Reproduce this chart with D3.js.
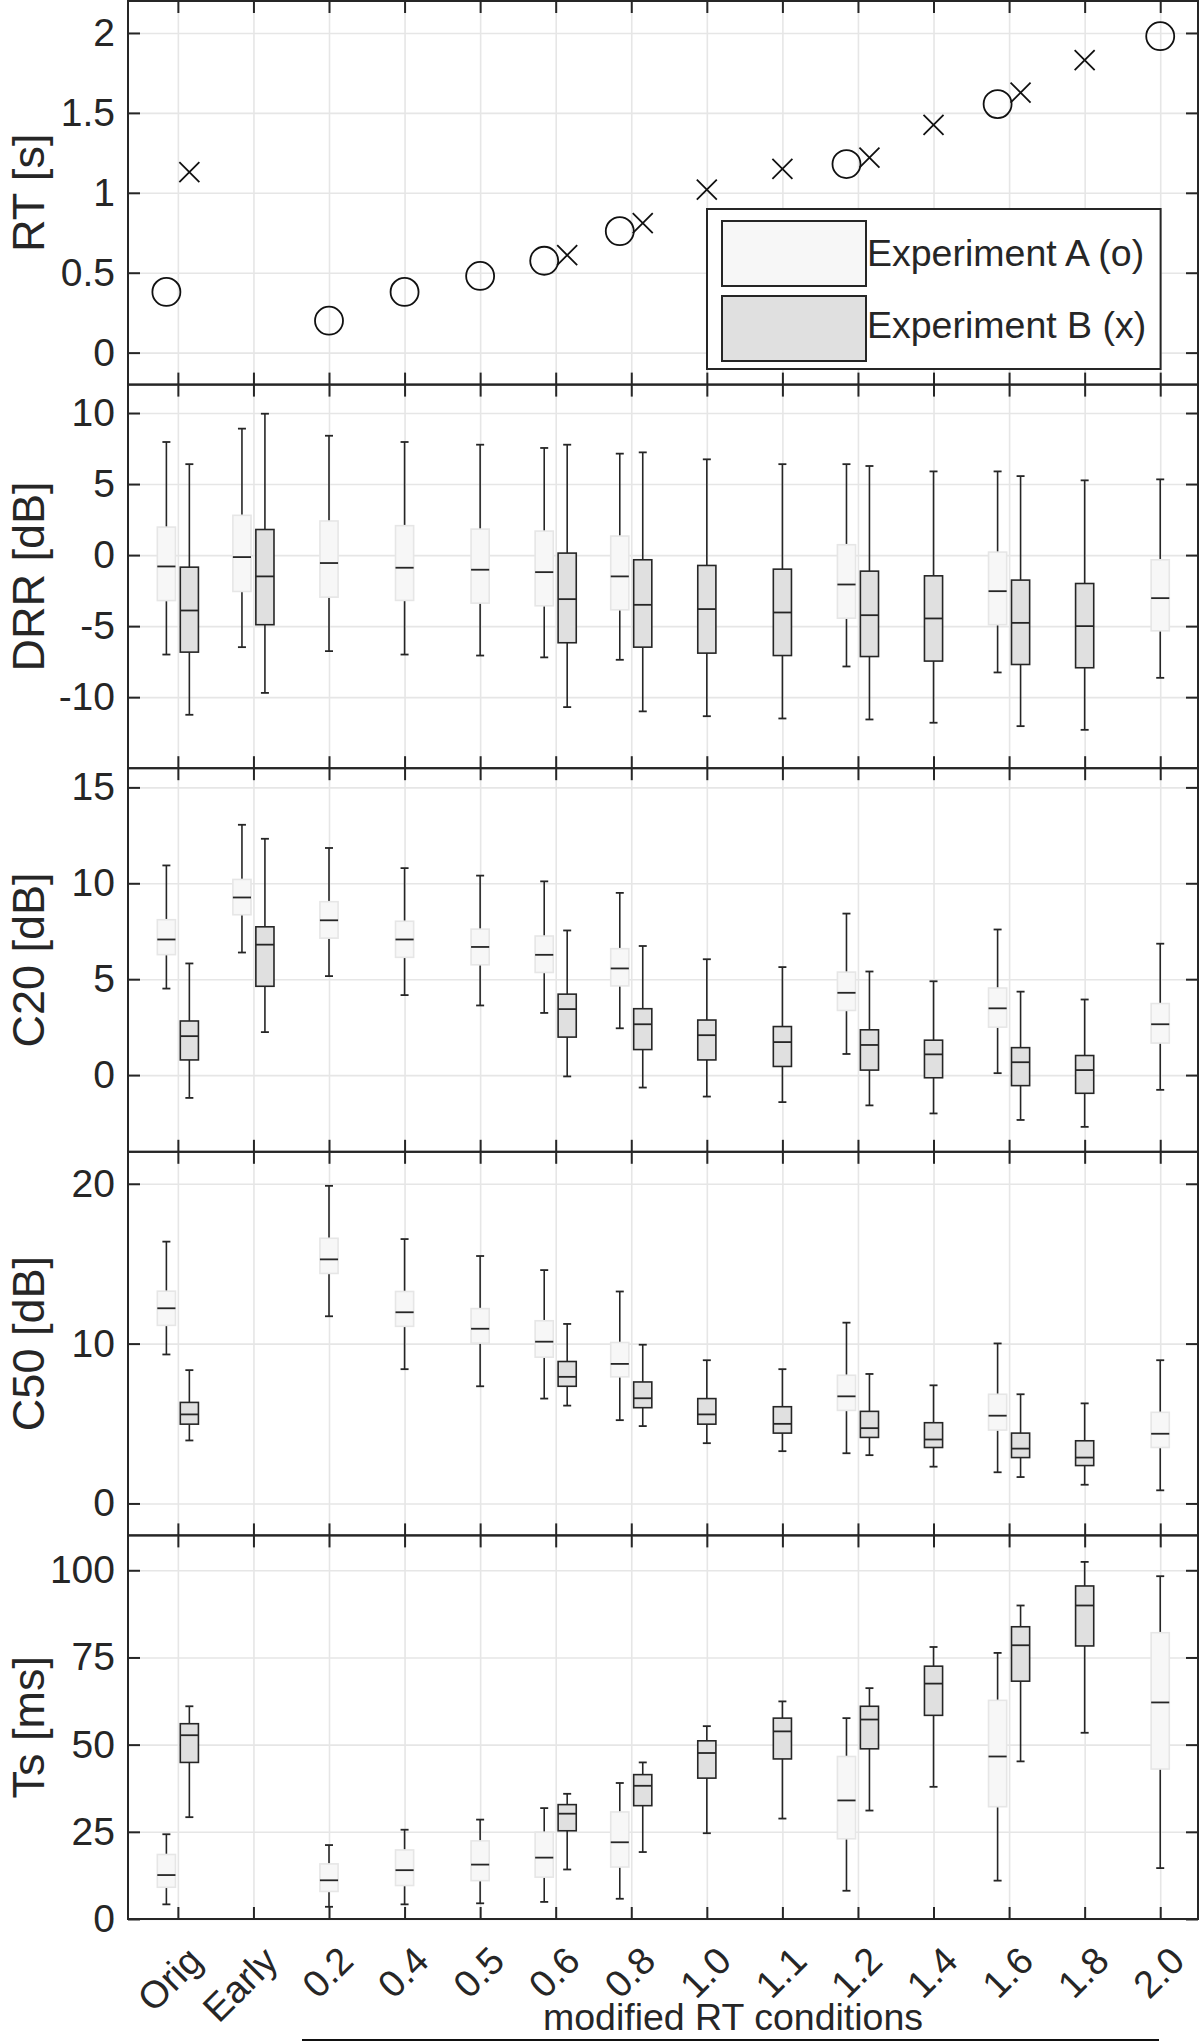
<!DOCTYPE html>
<html>
<head>
<meta charset="utf-8">
<script src="https://cdn.jsdelivr.net/npm/d3@7"></script>
<style>
  body { margin: 0; background: #fff; }
  text { font-family: "Liberation Sans", Arial, sans-serif; fill: #262626; }
</style>
</head>
<body>
<svg id="chart" width="1200" height="2043"></svg>
<script>
// ---- data ----
const categories = ["Orig", "Early", "0.2", "0.4", "0.5", "0.6", "0.8", "1.0", "1.1", "1.2", "1.4", "1.6", "1.8", "2.0"];

// RT [s]: experiment A (o), experiment B (x)
const rtA = [0.38, null, 0.20, 0.38, 0.48, 0.575, 0.76, null, null, 1.18, null, 1.555, null, 1.98];
const rtB = [1.13, null, null, null, null, 0.61, 0.81, 1.02, 1.15, 1.22, 1.425, 1.627, 1.83, null];

// box stats: [lower whisker, q1, median, q3, upper whisker]
const drrA = [
  [-7.0, -3.2, -0.8, 1.97, 7.96], [-6.48, -2.56, -0.14, 2.8, 8.9], [-6.76, -2.96, -0.56, 2.4, 8.4],
  [-7.0, -3.19, -0.89, 2.07, 7.96], [-7.07, -3.38, -1.03, 1.83, 7.77], [-7.2, -3.57, -1.2, 1.69, 7.54],
  [-7.37, -3.85, -1.5, 1.34, 7.14], null, null, [-7.84, -4.44, -2.07, 0.73, 6.4], null,
  [-8.26, -4.9, -2.54, 0.21, 5.89], null, [-8.64, -5.33, -3.03, -0.33, 5.33]
];
const drrB = [
  [-11.24, -6.83, -3.9, -0.85, 6.4], [-9.7, -4.9, -1.5, 1.8, 9.95], null, null, null,
  [-10.7, -6.17, -3.1, 0.14, 7.77], [-11.0, -6.48, -3.5, -0.33, 7.23], [-11.34, -6.9, -3.8, -0.73, 6.74],
  [-11.5, -7.07, -4.04, -0.99, 6.4], [-11.57, -7.14, -4.23, -1.13, 6.27], [-11.8, -7.46, -4.46, -1.46, 5.89],
  [-12.04, -7.7, -4.77, -1.76, 5.56], [-12.3, -7.93, -5.0, -2.0, 5.26], null
];
const c20A = [
  [4.51, 6.28, 7.07, 8.1, 10.93], [6.39, 8.36, 9.26, 10.2, 13.05], [5.16, 7.14, 8.07, 9.04, 11.84],
  [4.17, 6.14, 7.07, 8.02, 10.79], [3.63, 5.75, 6.68, 7.61, 10.4], [3.24, 5.35, 6.27, 7.25, 10.1],
  [2.44, 4.65, 5.56, 6.59, 9.5], null, null, [1.1, 3.37, 4.29, 5.37, 8.42], null,
  [0.1, 2.5, 3.48, 4.54, 7.59], null, [-0.77, 1.67, 2.65, 3.73, 6.85]
];
const c20B = [
  [-1.19, 0.79, 2.03, 2.82, 5.82], [2.24, 4.63, 6.8, 7.73, 12.32], null, null, null,
  [-0.07, 1.98, 3.44, 4.22, 7.54], [-0.65, 1.33, 2.65, 3.46, 6.73], [-1.12, 0.79, 2.08, 2.87, 6.04],
  [-1.41, 0.45, 1.72, 2.53, 5.63], [-1.58, 0.26, 1.57, 2.36, 5.4], [-2.0, -0.14, 1.08, 1.82, 4.89],
  [-2.34, -0.55, 0.67, 1.43, 4.35], [-2.7, -0.95, 0.26, 1.02, 3.94], null
];
const c50A = [
  [9.32, 11.14, 12.21, 13.28, 16.38], null, [11.71, 14.39, 15.27, 16.59, 19.87],
  [8.4, 11.08, 11.96, 13.26, 16.54], [7.33, 10.03, 10.93, 12.19, 15.48], [6.56, 9.15, 10.12, 11.43, 14.6],
  [5.21, 7.92, 8.73, 10.07, 13.26], null, null, [3.14, 5.82, 6.7, 8.02, 11.31], null,
  [1.95, 4.59, 5.49, 6.83, 10.01], null, [0.82, 3.5, 4.36, 5.7, 8.96]
];
const c50B = [
  [3.94, 4.96, 5.57, 6.32, 8.34], null, null, null, null,
  [6.12, 7.33, 7.92, 8.88, 11.23], [4.84, 5.99, 6.58, 7.6, 9.93], [3.77, 4.96, 5.57, 6.56, 8.96],
  [3.27, 4.4, 4.98, 6.05, 8.4], [3.02, 4.13, 4.71, 5.76, 8.1], [2.3, 3.5, 4.0, 5.05, 7.39],
  [1.65, 2.87, 3.43, 4.4, 6.83], [1.17, 2.37, 2.87, 3.92, 6.26], null
];
const tsA = [
  [4.2, 9.1, 12.6, 18.5, 24.3], [0, 0, 0, 0, 0], [3.5, 7.9, 11.1, 15.8, 21.2],
  [4.2, 9.6, 14.0, 19.8, 25.6], [4.5, 11.0, 15.6, 22.4, 28.5], [4.9, 12.0, 17.6, 24.9, 31.8],
  [5.8, 14.9, 22.0, 30.7, 39.0], null, null, [8.1, 23.0, 34.0, 46.6, 57.6], null,
  [11.0, 32.2, 46.6, 62.7, 76.3], null, [14.6, 43.0, 62.1, 82.1, 98.3]
];
const tsB = [
  [29.2, 44.9, 52.7, 56.0, 61.0], [0, 0, 0, 0, 0], null, null, null,
  [14.2, 25.3, 30.2, 32.8, 35.9], [19.2, 32.5, 38.2, 41.4, 44.9], [24.6, 40.4, 47.6, 51.1, 55.3],
  [28.8, 45.9, 53.8, 57.6, 62.4], [31.1, 48.8, 57.2, 61.0, 66.2], [37.9, 58.4, 67.5, 72.5, 78.0],
  [45.2, 68.2, 78.5, 83.8, 89.9], [53.4, 78.3, 89.9, 95.5, 102.4], null
];

const legendLabels = ["Experiment A (o)", "Experiment B (x)"];
const xGroupLabel = "modified RT conditions";

// ---- layout ----
const svg = d3.select("#chart");
const left = 128, right = 1198;
const top0 = 1, panelH = 383.6;
const ink = "#262626";
const gridColor = "#e6e6e6";
const fillA = "#f7f7f7", edgeA = "#e6e6e6", fillB = "#e0e0e0";

const x = d3.scaleLinear().domain([0.34, 14.5]).range([left, right]);
const idx = d3.range(1, categories.length + 1);
const off = 0.152, boxW = 0.24, capW = 8;

const panels = [
  { label: "RT [s]", dom: [-0.2, 2.2], ticks: [0, 0.5, 1, 1.5, 2], a: rtA, b: rtB, kind: "marker" },
  { label: "DRR [dB]", dom: [-15, 12], ticks: [-10, -5, 0, 5, 10], a: drrA, b: drrB, kind: "box" },
  { label: "C20 [dB]", dom: [-4, 16], ticks: [0, 5, 10, 15], a: c20A, b: c20B, kind: "box" },
  { label: "C50 [dB]", dom: [-2, 22], ticks: [0, 10, 20], a: c50A, b: c50B, kind: "box" },
  { label: "Ts [ms]", dom: [0, 110], ticks: [0, 25, 50, 75, 100], a: tsA, b: tsB, kind: "box" }
];

function styleAxis(g) {
  g.select(".domain").remove();
  g.selectAll(".tick line").attr("stroke", ink).attr("stroke-width", 2);
}

panels.forEach((p, pi) => {
  const y0 = top0 + pi * panelH, y1 = y0 + panelH;
  const y = d3.scaleLinear().domain(p.dom).range([y1, y0]);
  const g = svg.append("g");

  // grid
  g.append("g").attr("transform", `translate(${left},0)`)
    .call(d3.axisLeft(y).tickValues(p.ticks).tickSize(-(right - left)).tickFormat(""))
    .call(a => { a.select(".domain").remove(); a.selectAll("line").attr("stroke", gridColor).attr("stroke-width", 1.6); });
  g.append("g").attr("transform", `translate(0,${y1})`)
    .call(d3.axisBottom(x).tickValues(idx).tickSize(-(y1 - y0)).tickFormat(""))
    .call(a => { a.select(".domain").remove(); a.selectAll("line").attr("stroke", gridColor).attr("stroke-width", 1.6); });

  const items = [];
  categories.forEach((c, i) => {
    const both = p.a[i] != null && p.b[i] != null;
    if (p.a[i] != null) items.push({ s: "A", v: p.a[i], pos: i + 1 - (both ? off : 0) });
    if (p.b[i] != null) items.push({ s: "B", v: p.b[i], pos: i + 1 + (both ? off : 0) });
  });

  if (p.kind === "marker") {
    items.filter(d => d.s === "A").forEach(d => {
      g.append("circle").attr("cx", x(d.pos)).attr("cy", y(d.v)).attr("r", 14)
        .attr("fill", "none").attr("stroke", "#111").attr("stroke-width", 1.8);
    });
    items.filter(d => d.s === "B").forEach(d => {
      const cx = x(d.pos), cy = y(d.v), h = 10;
      g.append("path").attr("d", `M${cx - h},${cy - h}L${cx + h},${cy + h}M${cx - h},${cy + h}L${cx + h},${cy - h}`)
        .attr("stroke", "#111").attr("stroke-width", 1.8).attr("fill", "none");
    });
  } else {
    items.forEach(d => {
      const [lo, q1, md, q3, hi] = d.v;
      const cx = x(d.pos);
      const hw = (x(boxW) - x(0)) / 2;
      const bg = g.append("g");
      bg.append("line").attr("x1", cx).attr("x2", cx).attr("y1", y(q3)).attr("y2", y(hi))
        .attr("stroke", ink).attr("stroke-width", 1.6);
      bg.append("line").attr("x1", cx).attr("x2", cx).attr("y1", y(lo)).attr("y2", y(q1))
        .attr("stroke", ink).attr("stroke-width", 1.6);
      [lo, hi].forEach(v => bg.append("line").attr("x1", cx - capW / 2).attr("x2", cx + capW / 2)
        .attr("y1", y(v)).attr("y2", y(v)).attr("stroke", ink).attr("stroke-width", 1.8));
      bg.append("rect").attr("x", cx - hw).attr("width", hw * 2)
        .attr("y", y(q3)).attr("height", Math.max(0, y(q1) - y(q3)))
        .attr("fill", d.s === "A" ? fillA : fillB)
        .attr("stroke", d.s === "A" ? edgeA : ink).attr("stroke-width", 1.6);
      bg.append("line").attr("x1", cx - hw).attr("x2", cx + hw).attr("y1", y(md)).attr("y2", y(md))
        .attr("stroke", ink).attr("stroke-width", 1.8);
    });
  }

  // axes (MATLAB style: ticks inside on all four sides)
  g.append("g").attr("transform", `translate(${left},0)`)
    .call(d3.axisLeft(y).tickValues(p.ticks).tickSize(-12).tickPadding(13).tickFormat(d => String(d)))
    .call(styleAxis)
    .call(a => a.selectAll("text").attr("font-size", 39).attr("fill", ink));
  g.append("g").attr("transform", `translate(${right},0)`)
    .call(d3.axisRight(y).tickValues(p.ticks).tickSize(-12).tickFormat("")).call(styleAxis);
  g.append("g").attr("transform", `translate(0,${y0})`)
    .call(d3.axisTop(x).tickValues(idx).tickSize(-12).tickFormat("")).call(styleAxis);
  const bx = g.append("g").attr("transform", `translate(0,${y1})`)
    .call(d3.axisBottom(x).tickValues(idx).tickSize(-12).tickFormat(pi === panels.length - 1 ? (i => categories[i - 1]) : ""))
    .call(styleAxis);
  if (pi === panels.length - 1) {
    bx.selectAll("text")
      .attr("y", null).attr("dy", null)
      .attr("font-size", 38).attr("text-anchor", "end").attr("fill", ink)
      .attr("transform", "translate(26,44) rotate(-45)");
  }

  g.append("rect").attr("x", left).attr("y", y0).attr("width", right - left).attr("height", y1 - y0)
    .attr("fill", "none").attr("stroke", ink).attr("stroke-width", 2);

  g.append("text").attr("transform", `translate(44,${(y0 + y1) / 2}) rotate(-90)`)
    .attr("text-anchor", "middle").attr("font-size", 45).text(p.label);

  if (pi === 0) {
    const lg = g.append("g");
    lg.append("rect").attr("x", 707).attr("y", 209).attr("width", 453.6).attr("height", 160)
      .attr("fill", "#fff").attr("stroke", ink).attr("stroke-width", 2);
    [fillA, fillB].forEach((f, k) => {
      lg.append("rect").attr("x", 722).attr("y", 221 + k * 75).attr("width", 144).attr("height", 65)
        .attr("fill", f).attr("stroke", ink).attr("stroke-width", 2);
      lg.append("text").attr("x", 867).attr("y", 266 + k * 72).attr("font-size", 37.5)
        .attr("fill", "#000").text(legendLabels[k]);
    });
  }
});

// group label under the modified RT conditions
svg.append("text").attr("x", 733).attr("y", 2030).attr("text-anchor", "middle")
  .attr("font-size", 37.5).attr("fill", "#000").text(xGroupLabel);
svg.append("line").attr("x1", 302).attr("x2", 1159).attr("y1", 2040).attr("y2", 2040)
  .attr("stroke", "#111").attr("stroke-width", 2);
</script>
</body>
</html>
